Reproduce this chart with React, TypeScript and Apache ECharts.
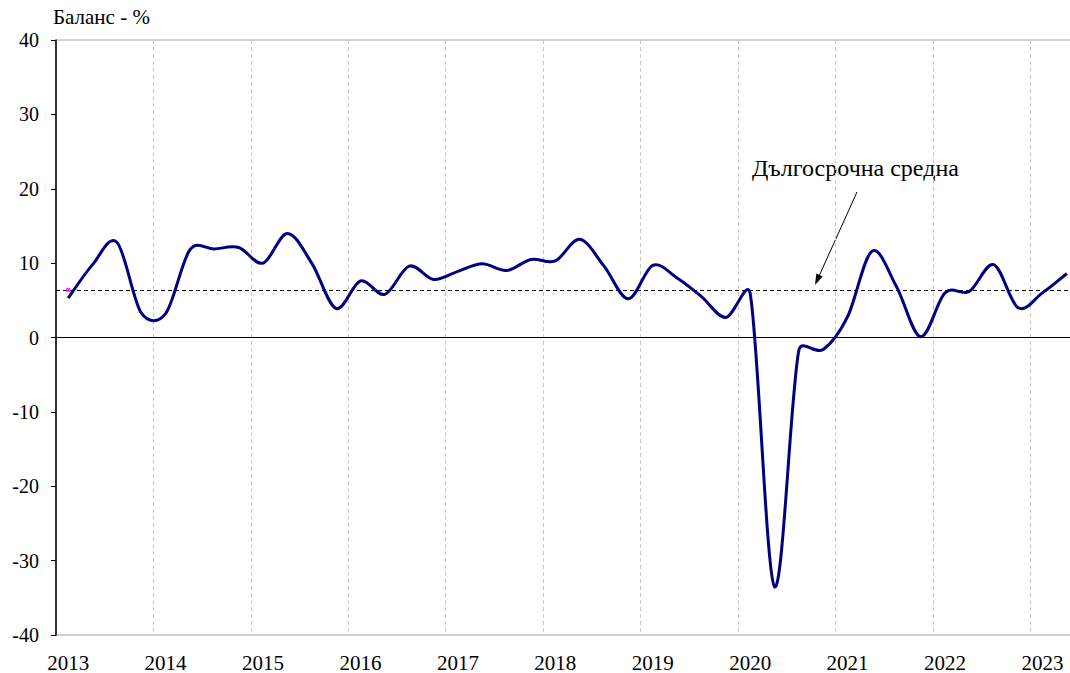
import React, { useEffect, useRef } from "react";
import * as echarts from "echarts";

const years = ["2013", "2014", "2015", "2016", "2017", "2018", "2019", "2020", "2021", "2022", "2023"];
const quartersPerYear = ["Q1", "Q2", "Q3", "Q4"];
const lastYearQuarters = 2;

const balance = [
  5.3, 9.8, 12.8, 3.3,
  3.2, 11.8, 11.9, 12.1,
  10.0, 14.0, 10.0, 3.9,
  7.6, 5.8, 9.6, 7.8,
  8.9, 9.9, 9.0, 10.5,
  10.3, 13.2, 9.6, 5.2,
  9.7, 8.0, 5.5, 2.7,
  5.9, -33.5, -1.7, -1.6,
  2.8, 11.6, 6.9, 0.1,
  6.0, 6.2, 9.8, 4.0,
  6.0, 8.6,
];

const longTermAverage = 6.4;
const yTicks = { min: -40, max: 40, interval: 10 };
const yTitle = "Баланс - %";
const avgLabel = "Дългосрочна средна";

const FONT = "Liberation Serif, Times New Roman, serif";

export default function App() {
  const ref = useRef<HTMLDivElement>(null);

  useEffect(() => {
    if (!ref.current) return;
    const chart = echarts.init(ref.current, undefined, { renderer: "svg" });

    const categories: string[] = [];
    years.forEach((y, yi) => {
      const n = yi === years.length - 1 ? lastYearQuarters : 4;
      for (let q = 0; q < n; q++) categories.push(y + " " + quartersPerYear[q]);
    });

    // arrow geometry (annotation)
    const ax0 = 857, ay0 = 192, ax1 = 815, ay1 = 285;
    const dx = ax1 - ax0, dy = ay1 - ay0;
    const len = Math.sqrt(dx * dx + dy * dy);
    const ux = dx / len, uy = dy / len;
    const hl = 11, hw = 3.5;
    const bx = ax1 - ux * hl, by = ay1 - uy * hl;

    const dist = (a: number[], b: number[]) => Math.hypot(a[0] - b[0], a[1] - b[1]);

    // Excel-like smoothed line (Bezier, tangent/6, arm capped at half segment)
    const renderCurve = (params: any, api: any) => {
      if (params.dataIndex !== 0) return { type: "group", children: [] };
      const pts = balance.map((v, i) => api.coord([i, v]));
      let d = "M" + pts[0][0] + "," + pts[0][1];
      for (let i = 0; i < pts.length - 1; i++) {
        const p0 = pts[i - 1] || pts[i];
        const p1 = pts[i];
        const p2 = pts[i + 1];
        const p3 = pts[i + 2] || pts[i + 1];
        const d12 = dist(p1, p2);
        const d02 = dist(p0, p2);
        const d13 = dist(p1, p3);
        let f = 1 / 6;
        let g = 1 / 6;
        if (d02 / 6 > d12 / 2 && d02 > 0) f = d12 / (2 * d02);
        if (d13 / 6 > d12 / 2 && d13 > 0) g = d12 / (2 * d13);
        const c1x = p1[0] + (p2[0] - p0[0]) * f;
        const c1y = p1[1] + (p2[1] - p0[1]) * f;
        const c2x = p2[0] - (p3[0] - p1[0]) * g;
        const c2y = p2[1] - (p3[1] - p1[1]) * g;
        d += " C" + c1x + "," + c1y + " " + c2x + "," + c2y + " " + p2[0] + "," + p2[1];
      }
      return {
        type: "path",
        shape: { pathData: d },
        style: { fill: "none", stroke: "#000080", lineWidth: 3, lineJoin: "round" },
      };
    };

    chart.setOption({
      animation: false,
      textStyle: { fontFamily: FONT },
      grid: {
        left: 56,
        right: 1,
        top: 40,
        bottom: 37,
        show: true,
        borderColor: "#a6a6a6",
        borderWidth: 1,
        backgroundColor: "transparent",
      },
      xAxis: {
        type: "category",
        data: categories,
        boundaryGap: true,
        axisLine: { show: true, lineStyle: { color: "#a6a6a6", width: 1 } },
        axisTick: { show: false },
        axisLabel: {
          interval: (i: number) => i % 4 === 0,
          formatter: (v: string) => v.split(" ")[0],
          color: "#000",
          fontSize: 21,
          fontFamily: FONT,
          margin: 17,
        },
        splitLine: {
          show: true,
          interval: (i: number) => i % 4 === 0,
          lineStyle: { color: "#c8c8c8", type: [4, 3], width: 1 },
        },
      },
      yAxis: {
        type: "value",
        min: yTicks.min,
        max: yTicks.max,
        interval: yTicks.interval,
        axisLine: { show: true, lineStyle: { color: "#000", width: 1.5 } },
        axisTick: { show: true, inside: false, length: 5, lineStyle: { color: "#000" } },
        axisLabel: { color: "#000", fontSize: 20, fontFamily: FONT, margin: 17 },
        splitLine: { show: false },
      },
      graphic: [
        {
          type: "text",
          left: 53,
          top: 6,
          style: { text: yTitle, fill: "#000", font: "21px " + FONT },
        },
        {
          type: "text",
          left: 752,
          top: 156,
          style: { text: avgLabel, fill: "#000", font: "24px " + FONT },
        },
        {
          type: "line",
          shape: { x1: ax0, y1: ay0, x2: bx, y2: by },
          style: { stroke: "#000", lineWidth: 1 },
        },
        {
          type: "polygon",
          shape: {
            points: [
              [ax1, ay1],
              [bx + uy * hw, by - ux * hw],
              [bx - uy * hw, by + ux * hw],
            ],
          },
          style: { fill: "#000" },
        },
      ],
      series: [
        {
          type: "scatter",
          data: [[0, longTermAverage]],
          symbol: "rect",
          symbolSize: 4,
          itemStyle: { color: "#ff00ff" },
          z: 6,
          markLine: {
            silent: true,
            symbol: ["none", "none"],
            label: { show: false },
            data: [
              { yAxis: 0, lineStyle: { color: "#000", width: 1, type: "solid" } },
              { yAxis: longTermAverage, lineStyle: { color: "#000", width: 1, type: [4, 3] } },
            ],
          },
        },
        {
          type: "custom",
          data: balance.map((v, i) => [i, v]),
          renderItem: renderCurve,
          clip: false,
          z: 5,
        },
      ],
    });

    return () => chart.dispose();
  }, []);

  return (
    <div style={{ position: "absolute", left: 0, top: 0, width: 1070, height: 673, overflow: "hidden" }}>
      <div ref={ref} style={{ position: "absolute", left: 0, top: 0, width: 1080, height: 673 }} />
    </div>
  );
}
